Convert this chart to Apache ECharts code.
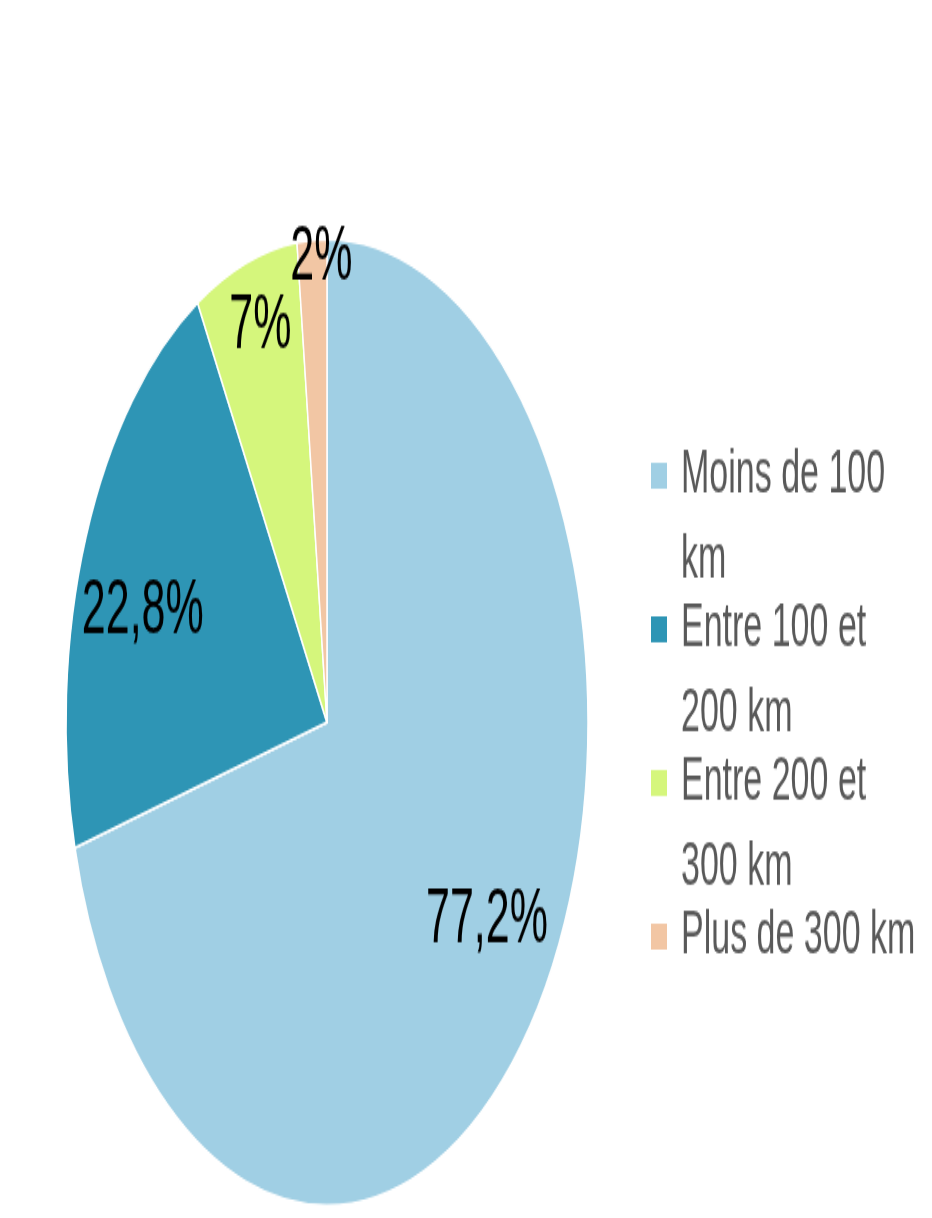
<!DOCTYPE html>
<html>
<head>
<meta charset="utf-8">
<script src="https://cdn.jsdelivr.net/npm/echarts@6/dist/echarts.min.js"></script>
<style>
	html { margin: 0; padding: 0; background: #fff; overflow: hidden; }
	body { margin: 0; padding: 0; background: #fff; width: 932px; height: 1218px; }
	/* the source picture is stretched vertically, so the chart is drawn flat and scaled */
	#chart { width: 932px; height: 658px; transform: scaleY(1.851); transform-origin: 0 0; }
</style>
</head>
<body>
<div id="chart"></div>
<script>
	// données
	const categories = ['Moins de 100 km', 'Entre 100 et 200 km', 'Entre 200 et 300 km', 'Plus de 300 km'];
	const values = [77.2, 22.8, 7, 2];
	// texte de la légende, coupé comme dans l'original (ligne vide en tête pour aligner la 1re ligne sur le carré)
	const legendText = ['\nMoins de 100\nkm', '\nEntre 100 et\n200 km', '\nEntre 200 et\n300 km', '\nPlus de 300 km\n'];
	const colors = ['#a0cfe4', '#2e95b5', '#d5f67c', '#f2c6a4'];

	// décalage des étiquettes depuis le milieu du secteur
	const labelShift = [[54, 26], [-61, -9], [-25, -87], [2, -118]];

	let myChart = echarts.init(document.getElementById('chart'));

	myChart.setOption({
		animation: false,
		backgroundColor: '#fff',
		color: colors,
		legend: {
			orient: 'vertical',
			left: 649,
			top: 188,
			padding: 0,
			itemGap: -55,
			itemWidth: 18,
			itemHeight: 16,
			icon: 'rect',
			data: categories,
			formatter: (name) => legendText[categories.indexOf(name)],
			textStyle: {
				color: '#595959',
				fontSize: 34,
				lineHeight: 46,
				padding: [0, 0, 0, 8],
				fontFamily: 'Liberation Sans'
			}
		},
		series: [{
			type: 'pie',
			center: [327, 390.3],
			radius: 261,
			startAngle: 90,
			clockwise: true,
			avoidLabelOverlap: false,
			itemStyle: {
				borderColor: '#fff',
				borderWidth: 1.5
			},
			label: {
				show: true,
				position: 'inside',
				color: '#000',
				fontSize: 43,
				fontFamily: 'Liberation Sans',
				formatter: (p) => String(p.value).replace('.', ',') + '%'
			},
			labelLine: { show: false },
			labelLayout: (p) => {
				return { dx: labelShift[p.dataIndex][0], dy: labelShift[p.dataIndex][1] };
			},
			data: categories.map((name, i) => ({ name: name, value: values[i] }))
		}]
	});
</script>
</body>
</html>
